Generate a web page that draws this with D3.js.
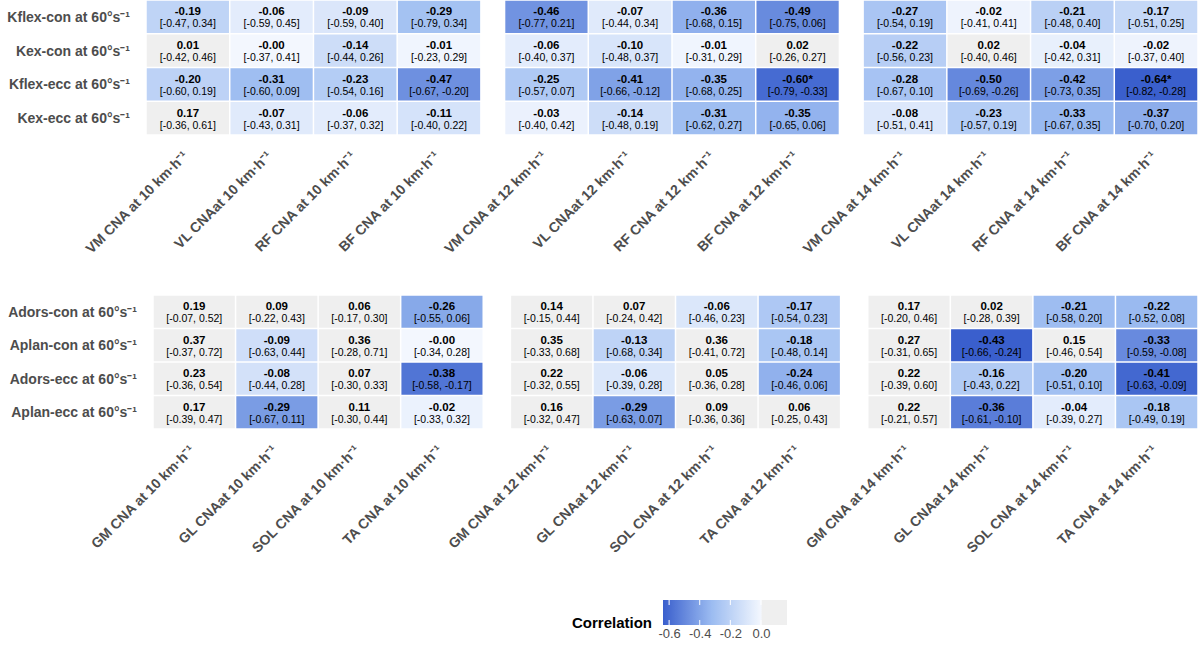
<!DOCTYPE html>
<html>
<head>
<meta charset="utf-8">
<script src="https://cdn.jsdelivr.net/npm/d3@7"></script>
<style>
  body { margin: 0; background: #fff; }
  svg { display: block; font-family: "Liberation Sans", Arial, sans-serif; }
</style>
</head>
<body>
<svg id="chart" width="1200" height="645"></svg>
<script>
// Correlation heatmaps: knee (top) and ankle (bottom) strength vs CNA at three running speeds.
var speeds = ['10', '12', '14'];

var topRows = ['Kflex-con at 60°s⁻¹', 'Kex-con at 60°s⁻¹', 'Kflex-ecc at 60°s⁻¹', 'Kex-ecc at 60°s⁻¹'];
var topMuscles = ['VM CNA at', 'VL CNAat', 'RF CNA at', 'BF CNA at'];
// each row: 10 km/h (4 muscles), 12 km/h (4), 14 km/h (4)
var topR = [
    [-0.19, -0.06, -0.09, -0.29, -0.46, -0.07, -0.36, -0.49, -0.27, -0.02, -0.21, -0.17],
    [0.01, -0, -0.14, -0.01, -0.06, -0.10, -0.01, 0.02, -0.22, 0.02, -0.04, -0.02],
    [-0.20, -0.31, -0.23, -0.47, -0.25, -0.41, -0.35, -0.60, -0.28, -0.50, -0.42, -0.64],
    [0.17, -0.07, -0.06, -0.11, -0.03, -0.14, -0.31, -0.35, -0.08, -0.23, -0.33, -0.37]
];
var topLo = [
    [-0.47, -0.59, -0.59, -0.79, -0.77, -0.44, -0.68, -0.75, -0.54, -0.41, -0.48, -0.51],
    [-0.42, -0.37, -0.44, -0.23, -0.40, -0.48, -0.31, -0.26, -0.56, -0.40, -0.42, -0.37],
    [-0.60, -0.60, -0.54, -0.67, -0.57, -0.66, -0.68, -0.79, -0.67, -0.69, -0.73, -0.82],
    [-0.36, -0.43, -0.37, -0.40, -0.40, -0.48, -0.62, -0.65, -0.51, -0.57, -0.67, -0.70]
];
var topHi = [
    [0.34, 0.45, 0.40, 0.34, 0.21, 0.34, 0.15, 0.06, 0.19, 0.41, 0.40, 0.25],
    [0.46, 0.41, 0.26, 0.29, 0.37, 0.37, 0.29, 0.27, 0.23, 0.46, 0.31, 0.40],
    [0.19, 0.09, 0.16, -0.20, 0.07, -0.12, 0.25, -0.33, 0.10, -0.26, 0.35, -0.28],
    [0.61, 0.31, 0.32, 0.22, 0.42, 0.19, 0.27, 0.06, 0.41, 0.19, 0.35, 0.20]
];
var topStars = [[2, 7], [2, 11]];

var botRows = ['Adors-con at 60°s⁻¹', 'Aplan-con at 60°s⁻¹', 'Adors-ecc at 60°s⁻¹', 'Aplan-ecc at 60°s⁻¹'];
var botMuscles = ['GM CNA at', 'GL CNAat', 'SOL CNA at', 'TA CNA at'];
var botR = [
    [0.19, 0.09, 0.06, -0.26, 0.14, 0.07, -0.06, -0.17, 0.17, 0.02, -0.21, -0.22],
    [0.37, -0.09, 0.36, -0, 0.35, -0.13, 0.36, -0.18, 0.27, -0.43, 0.15, -0.33],
    [0.23, -0.08, 0.07, -0.38, 0.22, -0.06, 0.05, -0.24, 0.22, -0.16, -0.20, -0.41],
    [0.17, -0.29, 0.11, -0.02, 0.16, -0.29, 0.09, 0.06, 0.22, -0.36, -0.04, -0.18]
];
var botLo = [
    [-0.07, -0.22, -0.17, -0.55, -0.15, -0.24, -0.46, -0.54, -0.20, -0.28, -0.58, -0.52],
    [-0.37, -0.63, -0.28, -0.34, -0.33, -0.68, -0.41, -0.48, -0.31, -0.66, -0.46, -0.59],
    [-0.36, -0.44, -0.30, -0.58, -0.32, -0.39, -0.36, -0.46, -0.39, -0.43, -0.51, -0.63],
    [-0.39, -0.67, -0.30, -0.33, -0.32, -0.63, -0.36, -0.25, -0.21, -0.61, -0.39, -0.49]
];
var botHi = [
    [0.52, 0.43, 0.30, 0.06, 0.44, 0.42, 0.23, 0.23, 0.46, 0.39, 0.20, 0.08],
    [0.72, 0.44, 0.71, 0.28, 0.68, 0.34, 0.72, 0.14, 0.65, -0.24, 0.54, -0.08],
    [0.54, 0.28, 0.33, -0.17, 0.55, 0.28, 0.28, 0.06, 0.60, 0.22, 0.10, -0.09],
    [0.47, 0.11, 0.44, 0.32, 0.47, 0.07, 0.36, 0.43, 0.57, -0.10, 0.27, 0.19]
];
var botStars = [];

var legendTicks = [-0.6, -0.4, -0.2, 0.0];

(function () {
    var svg = d3.select('#chart');
    var LOW = '#3a5fcd', MID = '#9cbcf1', ZERO = '#f3f7fe', POS = '#efefef';
    var TXT = '#4d4d4d';

    function fmt(v) {
        var neg = v < 0 || Object.is(v, -0);
        return (neg ? '-' : '') + Math.abs(v).toFixed(2);
    }

    // Each panel has its own scale: darkest blue at the panel minimum, near white at 0,
    // light grey for every positive r.
    function makeFill(minV) {
        var blue = d3.scaleLinear().domain([minV, minV / 2, 0]).range([LOW, MID, ZERO])
            .interpolate(d3.interpolateRgb).clamp(true);
        return function (v) { return v > 0 ? POS : blue(v); };
    }

    function drawPanel(p) {
        var g = svg.append('g');
        var flat = d3.merge(p.r);
        var fill = makeFill(d3.min(flat));

        var facet = d3.scaleBand().domain(speeds).range([p.x0, p.x1]).paddingInner(p.gap);
        var y = d3.scaleBand().domain(d3.range(p.rows.length)).range([p.y0, p.y1]);
        var col = d3.scaleBand().domain(d3.range(p.muscles.length)).range([0, facet.bandwidth()]);

        var cells = [];
        p.r.forEach(function (row, i) {
            row.forEach(function (v, j) {
                var s = speeds[Math.floor(j / 4)], m = j % 4;
                var star = p.stars.some(function (d) { return d[0] === i && d[1] === j; });
                cells.push({ i: i, s: s, m: m, v: v, lo: p.lo[i][j], hi: p.hi[i][j], star: star });
            });
        });

        var cg = g.selectAll('g.cell').data(cells).enter().append('g').attr('class', 'cell')
            .attr('transform', function (d) {
                return 'translate(' + (facet(d.s) + col(d.m)) + ',' + y(d.i) + ')';
            });
        cg.append('rect')
            .attr('x', 0.75).attr('y', 0.75)
            .attr('width', col.bandwidth() - 1.5).attr('height', y.bandwidth() - 1.5)
            .attr('fill', function (d) { return fill(d.v); });
        cg.append('text')
            .attr('x', col.bandwidth() / 2).attr('y', y.bandwidth() / 2 - 1.5)
            .attr('text-anchor', 'middle').attr('font-size', 11.5).attr('font-weight', 'bold')
            .attr('fill', '#000')
            .text(function (d) { return fmt(d.v) + (d.star ? '*' : ''); });
        cg.append('text')
            .attr('x', col.bandwidth() / 2).attr('y', y.bandwidth() / 2 + 10.5)
            .attr('text-anchor', 'middle').attr('font-size', 10.5)
            .attr('fill', '#000')
            .text(function (d) { return '[' + fmt(d.lo) + ', ' + fmt(d.hi) + ']'; });

        // row labels
        g.selectAll('text.row').data(p.rows).enter().append('text')
            .attr('class', 'row')
            .attr('x', p.x0 - 16)
            .attr('y', function (d, i) { return y(i) + y.bandwidth() / 2 + 5; })
            .attr('text-anchor', 'end').attr('font-size', 14).attr('font-weight', 'bold')
            .attr('fill', TXT)
            .text(function (d) { return d; });

        // column labels, rotated
        var labs = [];
        speeds.forEach(function (s) {
            p.muscles.forEach(function (m, k) {
                labs.push({ x: facet(s) + col(k) + col.bandwidth() / 2, t: m + ' ' + s + ' km·h⁻¹' });
            });
        });
        g.selectAll('text.col').data(labs).enter().append('text')
            .attr('class', 'col')
            .attr('transform', function (d) {
                return 'translate(' + (d.x + 1) + ',' + (p.y1 + 22) + ') rotate(-45)';
            })
            .attr('text-anchor', 'end').attr('font-size', 14).attr('font-weight', 'bold')
            .attr('fill', TXT)
            .text(function (d) { return d.t; });

        return d3.extent(flat);
    }

    var topExt = drawPanel({ rows: topRows, muscles: topMuscles, r: topR, lo: topLo, hi: topHi,
        stars: topStars, x0: 146, x1: 1198, y0: 0, y1: 135, gap: 0.066 });
    drawPanel({ rows: botRows, muscles: botMuscles, r: botR, lo: botLo, hi: botHi,
        stars: botStars, x0: 153, x1: 1198, y0: 295, y1: 429, gap: 0.076 });

    // Legend (top panel's colour scale)
    var lx = d3.scaleLinear().domain(topExt).range([663, 787]);
    var lfill = makeFill(topExt[0]);
    var grad = svg.append('defs').append('linearGradient').attr('id', 'lg')
        .attr('x1', '0%').attr('x2', '100%');
    d3.range(0, 1.0001, 0.01).forEach(function (t) {
        var v = topExt[0] + t * (topExt[1] - topExt[0]);
        grad.append('stop').attr('offset', (t * 100) + '%').attr('stop-color', lfill(v));
    });
    var leg = svg.append('g');
    leg.append('rect').attr('x', lx.range()[0]).attr('y', 600)
        .attr('width', lx.range()[1] - lx.range()[0]).attr('height', 25)
        .attr('fill', 'url(#lg)');
    legendTicks.forEach(function (t) {
        [[600, 605], [620, 625]].forEach(function (yy) {
            leg.append('line').attr('x1', lx(t)).attr('x2', lx(t))
                .attr('y1', yy[0]).attr('y2', yy[1])
                .attr('stroke', '#fff').attr('stroke-width', 1);
        });
    });
    var ax = leg.append('g').attr('transform', 'translate(0,625)')
        .call(d3.axisBottom(lx).tickValues(legendTicks).tickFormat(function (d) { return d.toFixed(1); })
            .tickSize(0).tickPadding(4));
    ax.select('.domain').remove();
    ax.selectAll('text').attr('font-size', 13).attr('fill', TXT)
        .attr('font-family', '"Liberation Sans", Arial, sans-serif');
    leg.append('text').attr('x', 652).attr('y', 628)
        .attr('text-anchor', 'end').attr('font-size', 15).attr('font-weight', 'bold')
        .attr('fill', '#000').text('Correlation');
})();
</script>
</body>
</html>
